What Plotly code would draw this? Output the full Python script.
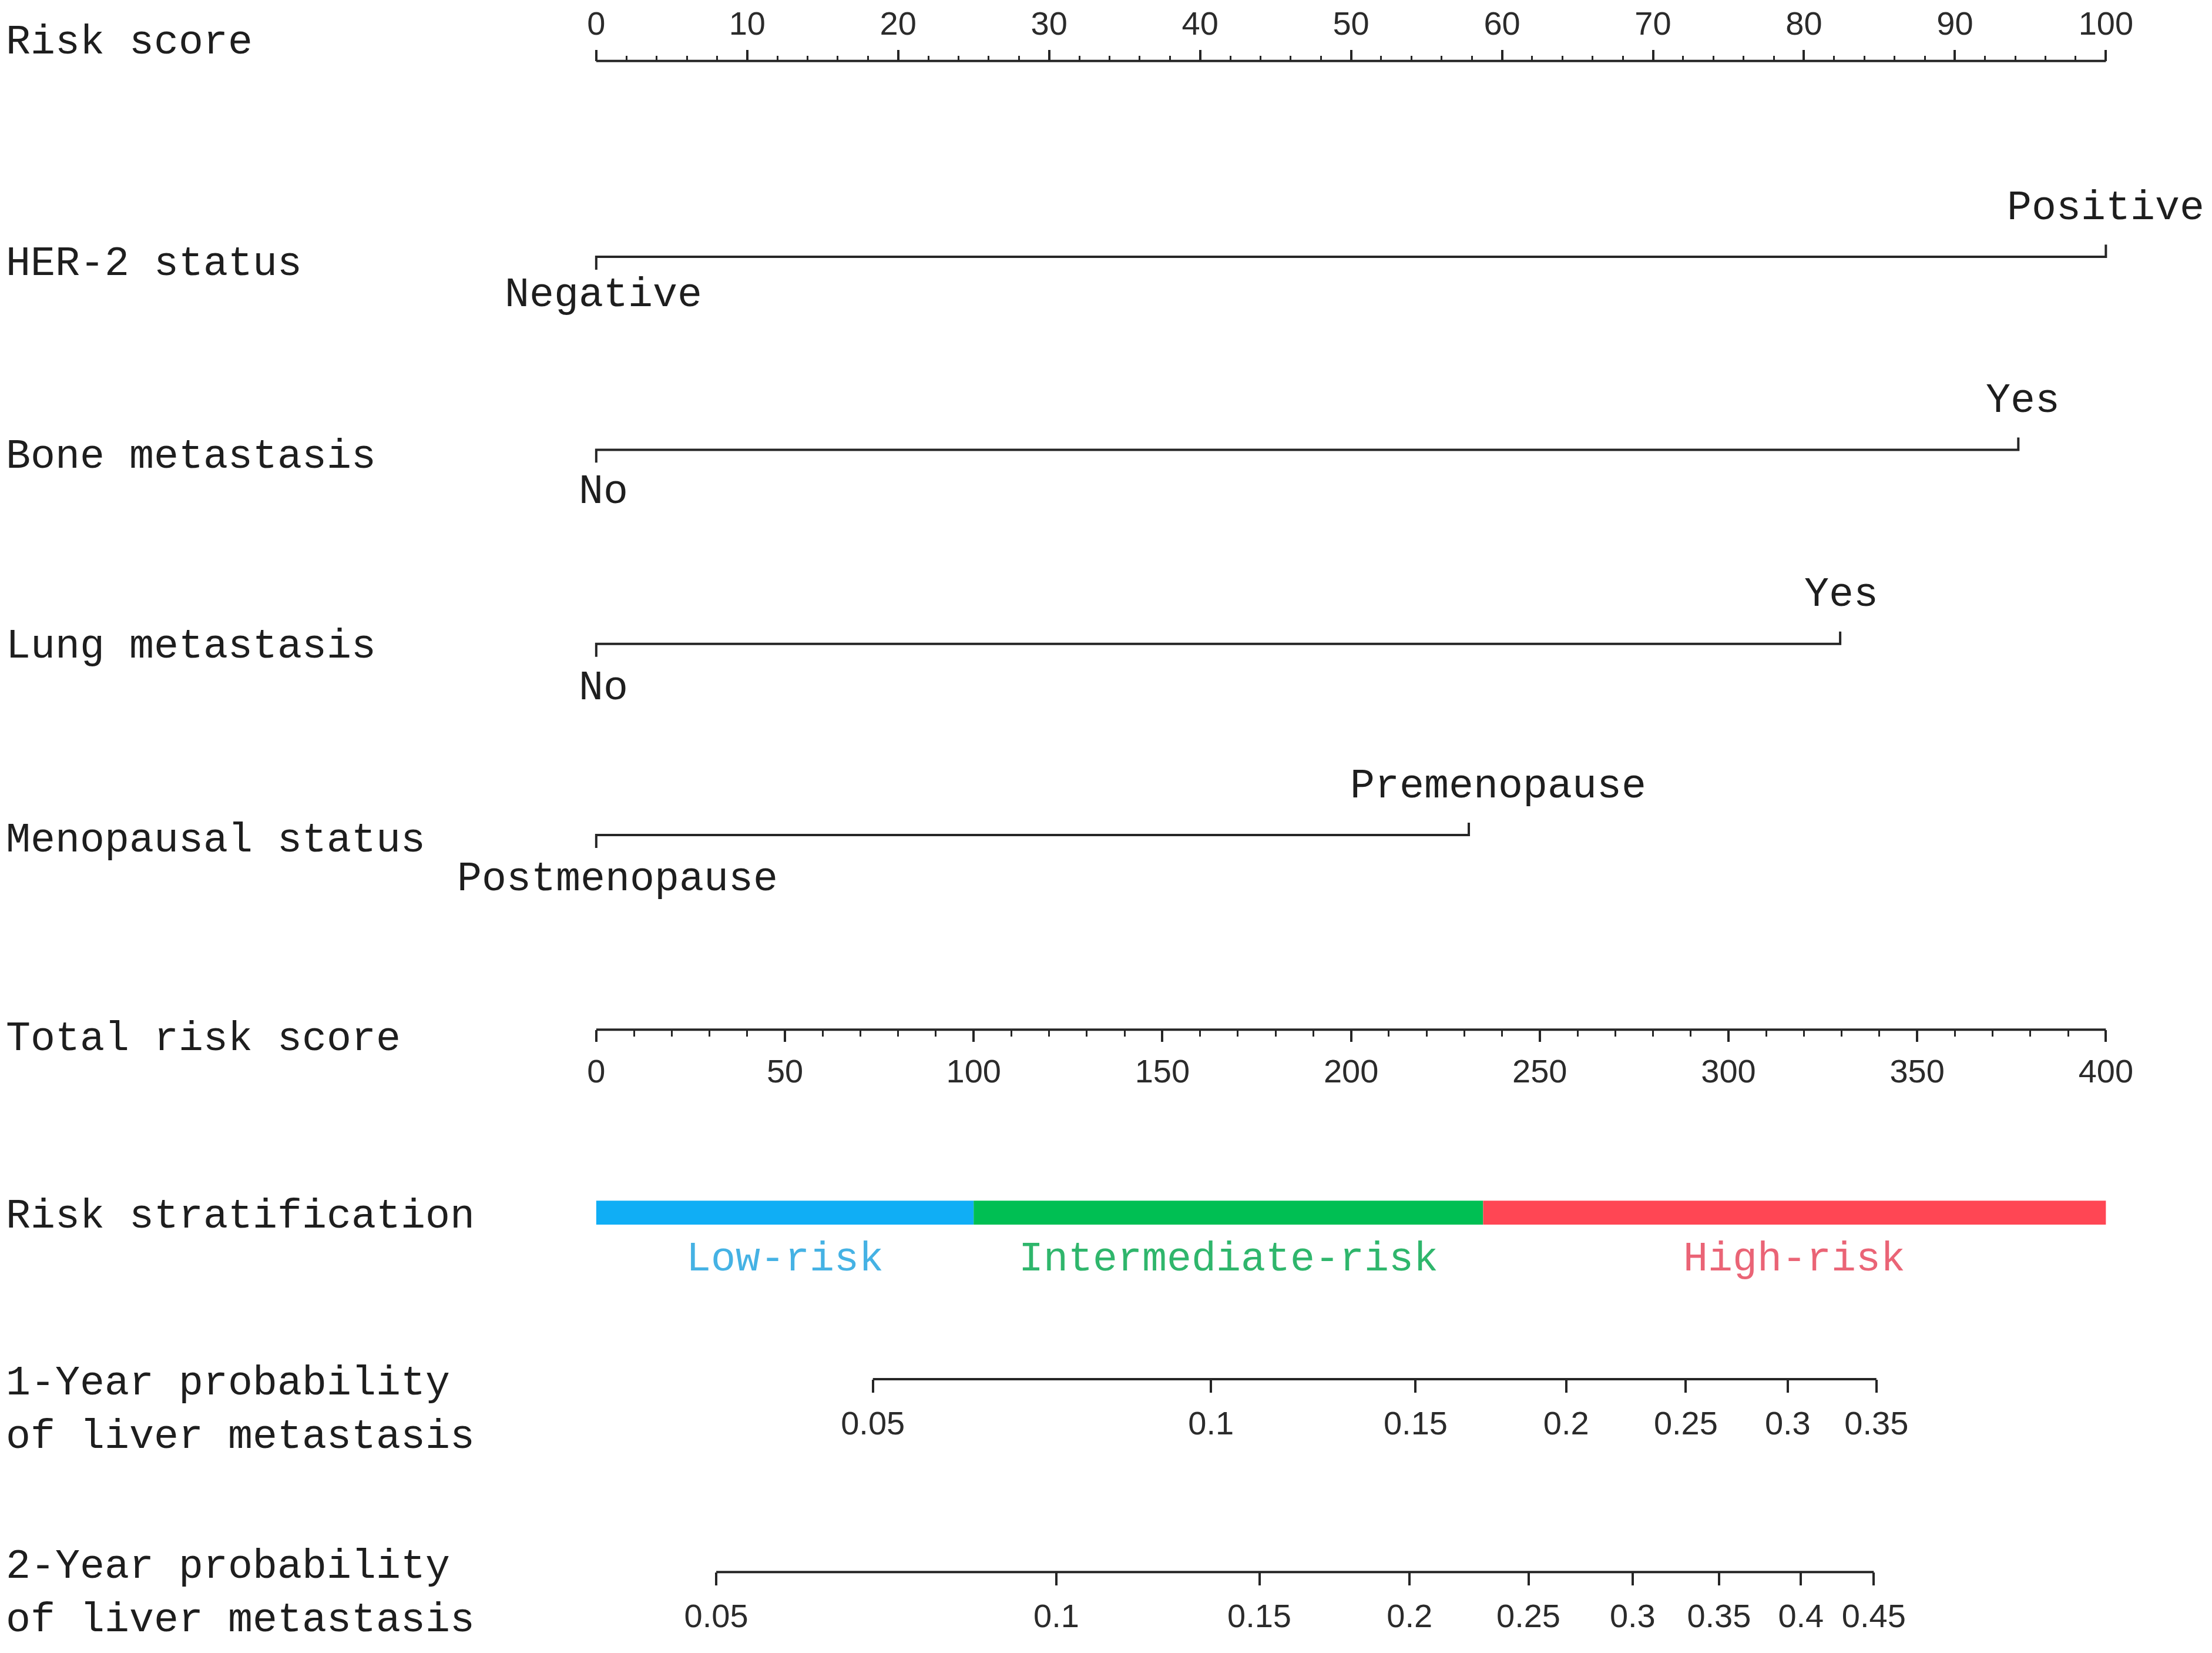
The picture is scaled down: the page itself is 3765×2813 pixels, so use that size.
import plotly.graph_objects as go

# target picture size; the html body adds an 8px margin, so the figure is drawn 16px smaller
W, H = 3765, 2813
M = 8
FW, FH = W - 2 * M, H - 2 * M

# ---- data ----
points_range = [0, 100]
total_range = [0, 400]

factor_names = ["HER-2 status", "Bone metastasis", "Lung metastasis", "Menopausal status"]
level_zero = ["Negative", "No", "No", "Postmenopause"]
level_top = ["Positive", "Yes", "Yes", "Premenopause"]
level_points = [100, 94.2, 82.4, 57.8]

strata_names = ["Low-risk", "Intermediate-risk", "High-risk"]
strata_cuts = [0, 100, 235, 400]

prob1_labels = ["0.05", "0.1", "0.15", "0.2", "0.25", "0.3", "0.35"]
prob1_total = [73.3, 162.9, 217.1, 257.0, 288.7, 315.7, 339.2]

prob2_labels = ["0.05", "0.1", "0.15", "0.2", "0.25", "0.3", "0.35", "0.4", "0.45"]
prob2_total = [31.8, 121.9, 175.7, 215.5, 247.0, 274.6, 297.5, 319.2, 338.5]

# ---- layout (pixels of the final picture) ----
X0, X1 = 1017, 3592          # where 0 and 100 points sit
PAD = 1.5                    # points of padding so end ticks are not clipped
k = (X1 - X0) / 100.0
dom = [(X0 - M - PAD * k) / FW, (X1 - M + PAD * k) / FW]

Y_POINTS = 98
Y_FACTORS = [432, 761, 1092, 1418]
Y_TOTAL = 1750
Y_STRATA = 2062
Y_P1 = 2346
Y_P2 = 2675

def ypos(y):
    # paper position of a pixel row
    return 1 - (y - M) / FH

row_names = ["Risk score"] + factor_names + ["Total risk score", "Risk stratification",
             "1-Year probability<br>of liver metastasis", "2-Year probability<br>of liver metastasis"]
row_label_y = [67, 444, 773, 1097, 1428, 1766, 2069, 2399, 2712]

# small nudges of the level labels seen in the original
zero_shift = [12, 12, 12, 36]
top_shift = [0, 8, 2, 50]
zero_drop = [66, 72, 76, 76]

INK = "#262626"
LABEL_FONT = dict(family="Liberation Mono", size=70, color="#1e1e1e")
TICK_FONT = dict(family="Liberation Sans", size=56, color="#2b2b2b")
strata_colors = ["#10AEF5", "#00BF53", "#FF4654"]
strata_text = ["#45B2E4", "#2FB66C", "#EA6476"]

fig = go.Figure()

# axis lines (drawn as traces so they stop exactly at the scale ends)
fig.add_trace(go.Scatter(x=points_range, y=[Y_POINTS, Y_POINTS], mode="lines",
                         line=dict(color=INK, width=4), xaxis="x", yaxis="y"))
fig.add_trace(go.Scatter(x=total_range, y=[Y_TOTAL, Y_TOTAL], mode="lines",
                         line=dict(color=INK, width=4), xaxis="x2", yaxis="y"))
fig.add_trace(go.Scatter(x=[prob1_total[0], prob1_total[-1]], y=[Y_P1, Y_P1], mode="lines",
                         line=dict(color=INK, width=4), xaxis="x3", yaxis="y"))
fig.add_trace(go.Scatter(x=[prob2_total[0], prob2_total[-1]], y=[Y_P2, Y_P2], mode="lines",
                         line=dict(color=INK, width=4), xaxis="x4", yaxis="y"))

# factor lines with the little end ticks
for i, name in enumerate(factor_names):
    y = Y_FACTORS[i]
    p = level_points[i]
    fig.add_trace(go.Scatter(x=[0, 0, p, p], y=[y + 22, y, y, y - 21], mode="lines",
                             line=dict(color=INK, width=4), xaxis="x", yaxis="y"))
    fig.add_annotation(x=0, y=y + zero_drop[i], xref="x", yref="y", text=level_zero[i],
                       xshift=zero_shift[i], showarrow=False, xanchor="center",
                       yanchor="middle", font=LABEL_FONT)
    fig.add_annotation(x=p, y=y - 83, xref="x", yref="y", text=level_top[i],
                       xshift=top_shift[i], showarrow=False, xanchor="center",
                       yanchor="middle", font=LABEL_FONT)

# risk stratification bar
for i, name in enumerate(strata_names):
    lo, hi = strata_cuts[i], strata_cuts[i + 1]
    fig.add_trace(go.Bar(x=[hi - lo], base=[lo], y=[Y_STRATA], orientation="h", width=41,
                         marker=dict(color=strata_colors[i], line=dict(width=0)),
                         xaxis="x2", yaxis="y"))
    fig.add_annotation(x=(lo + hi) / 2, y=Y_STRATA + 80, xref="x2", yref="y", text=name,
                       showarrow=False, xanchor="center", yanchor="middle",
                       font=dict(family="Liberation Mono", size=70, color=strata_text[i]))

# row titles on the left
for name, y in zip(row_names, row_label_y):
    fig.add_annotation(x=0, y=y, xref="paper", yref="y", text=name, showarrow=False,
                       xanchor="left", yanchor="middle", align="left", font=LABEL_FONT)

common = dict(domain=dom, showgrid=False, zeroline=False, showline=False, anchor="free",
              ticks="outside", tickwidth=4, tickcolor=INK, tickfont=TICK_FONT)

fig.update_layout(
    width=FW, height=FH,
    margin=dict(l=0, r=0, t=0, b=0),
    paper_bgcolor="white", plot_bgcolor="white",
    showlegend=False, barmode="overlay",
    yaxis=dict(range=[H - M, M], domain=[0, 1], visible=False, fixedrange=True),
    xaxis=dict(common, range=[-PAD, 100 + PAD], side="top", position=ypos(Y_POINTS),
               tickmode="linear", tick0=0, dtick=10, ticklen=19, ticklabelstandoff=3,
               minor=dict(ticks="outside", tick0=0, dtick=2, ticklen=9, tickwidth=3, tickcolor=INK)),
    xaxis2=dict(common, range=[-4 * PAD, 400 + 4 * PAD], overlaying="x", side="bottom",
                position=ypos(Y_TOTAL), tickmode="linear", tick0=0, dtick=50, ticklen=20,
                ticklabelstandoff=2,
                minor=dict(ticks="outside", tick0=0, dtick=10, ticklen=11, tickwidth=3, tickcolor=INK)),
    xaxis3=dict(common, range=[-4 * PAD, 400 + 4 * PAD], overlaying="x", side="bottom",
                position=ypos(Y_P1), tickmode="array", tickvals=prob1_total,
                ticktext=prob1_labels, ticklen=22, ticklabelstandoff=4),
    xaxis4=dict(common, range=[-4 * PAD, 400 + 4 * PAD], overlaying="x", side="bottom",
                position=ypos(Y_P2), tickmode="array", tickvals=prob2_total,
                ticktext=prob2_labels, ticklen=22, ticklabelstandoff=4),
)

fig.write_html("out.html")
